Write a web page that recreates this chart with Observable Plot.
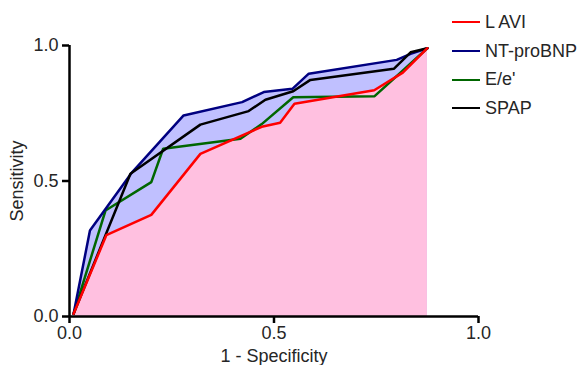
<!DOCTYPE html>
<html>
<head>
<meta charset="utf-8">
<script src="https://cdn.jsdelivr.net/npm/d3@7"></script>
<script src="https://cdn.jsdelivr.net/npm/@observablehq/plot@0.6"></script>
<style>
  html, body { margin: 0; padding: 0; background: #fff; }
  #wrap { position: relative; width: 583px; height: 365px; font-family: "Liberation Sans", Arial, sans-serif; }
  #legend { position: absolute; left: 452px; top: 8px; font-size: 18px; color: #262626; }
  #legend .row { display: flex; align-items: center; height: 28.7px; }
  #legend .sw { width: 28px; height: 0; border-top: 2.5px solid; margin-right: 5px; }
</style>
</head>
<body>
<div id="wrap"><div id="legend"></div></div>
<script>
// Series names and colours
const seriesNames = ["L AVI", "NT-proBNP", "E/e'", "SPAP"];
const seriesColors = ["#ff0000", "#000080", "#006600", "#000000"];

// 1 - Specificity (x) and Sensitivity (y) for each curve
const laviX = [0.01, 0.09, 0.20, 0.32, 0.47, 0.515, 0.55, 0.745, 0.815, 0.875];
const laviY = [0.01, 0.30, 0.375, 0.60, 0.70, 0.715, 0.785, 0.835, 0.90, 0.99];

const bnpX = [0.01, 0.05, 0.153, 0.279, 0.422, 0.475, 0.545, 0.585, 0.80, 0.834, 0.875];
const bnpY = [0.01, 0.317, 0.532, 0.742, 0.791, 0.828, 0.840, 0.896, 0.947, 0.969, 0.99];

const eeX = [0.01, 0.088, 0.200, 0.229, 0.418, 0.47, 0.547, 0.746, 0.875];
const eeY = [0.01, 0.391, 0.496, 0.619, 0.656, 0.71, 0.809, 0.813, 0.99];

const spapX = [0.01, 0.149, 0.320, 0.438, 0.479, 0.547, 0.589, 0.793, 0.834, 0.875];
const spapY = [0.01, 0.527, 0.708, 0.758, 0.800, 0.831, 0.873, 0.914, 0.975, 0.99];

const xTicks = [0, 0.5, 1.0];
const yTicks = [0, 0.5, 1.0];

const zip = (xs, ys, name) => xs.map((x, i) => ({x, y: ys[i], name}));
const lavi = zip(laviX, laviY, seriesNames[0]);
const bnp = zip(bnpX, bnpY, seriesNames[1]);
const ee = zip(eeX, eeY, seriesNames[2]);
const spap = zip(spapX, spapY, seriesNames[3]);

const lineOpts = (c) => ({x: "x", y: "y", stroke: c, strokeWidth: 2.5, strokeLinejoin: "miter"});

const chart = Plot.plot({
  width: 583,
  height: 365,
  marginLeft: 69,
  marginRight: 105,
  marginTop: 45,
  marginBottom: 49,
  style: {fontFamily: "'Liberation Sans', Arial, sans-serif", fontSize: "18px", color: "#262626", background: "transparent"},
  x: {domain: [0, 1]},
  y: {domain: [0, 1]},
  marks: [
    Plot.areaY(bnp, {x: "x", y: "y", fill: "#c0c0ff"}),
    Plot.areaY(lavi, {x: "x", y: "y", fill: "#ffc0e0"}),
    Plot.line(ee, lineOpts(seriesColors[2])),
    Plot.line(bnp, lineOpts(seriesColors[1])),
    Plot.line(spap, lineOpts(seriesColors[3])),
    Plot.line(lavi, lineOpts(seriesColors[0])),
    Plot.axisX({ticks: xTicks, tickFormat: d3.format(".1f"), tickSize: 7, tickPadding: 3, strokeWidth: 2.5, stroke: "#000",
      label: "1 - Specificity", labelAnchor: "center", labelOffset: 45, labelArrow: "none"}),
    Plot.axisY({ticks: yTicks, tickFormat: d3.format(".1f"), tickSize: 7, tickPadding: 4, strokeWidth: 2.5, stroke: "#000",
      label: "Sensitivity", labelAnchor: "center", labelOffset: 59, labelArrow: "none"}),
    Plot.ruleX([0], {stroke: "#000", strokeWidth: 2.5}),
    Plot.ruleY([0], {stroke: "#000", strokeWidth: 2.5})
  ]
});
document.getElementById("wrap").prepend(chart);

const legend = document.getElementById("legend");
seriesNames.forEach((n, i) => {
  const row = document.createElement("div");
  row.className = "row";
  const sw = document.createElement("div");
  sw.className = "sw";
  sw.style.borderColor = seriesColors[i];
  const t = document.createElement("span");
  t.textContent = n;
  row.append(sw, t);
  legend.append(row);
});
</script>
</body>
</html>
